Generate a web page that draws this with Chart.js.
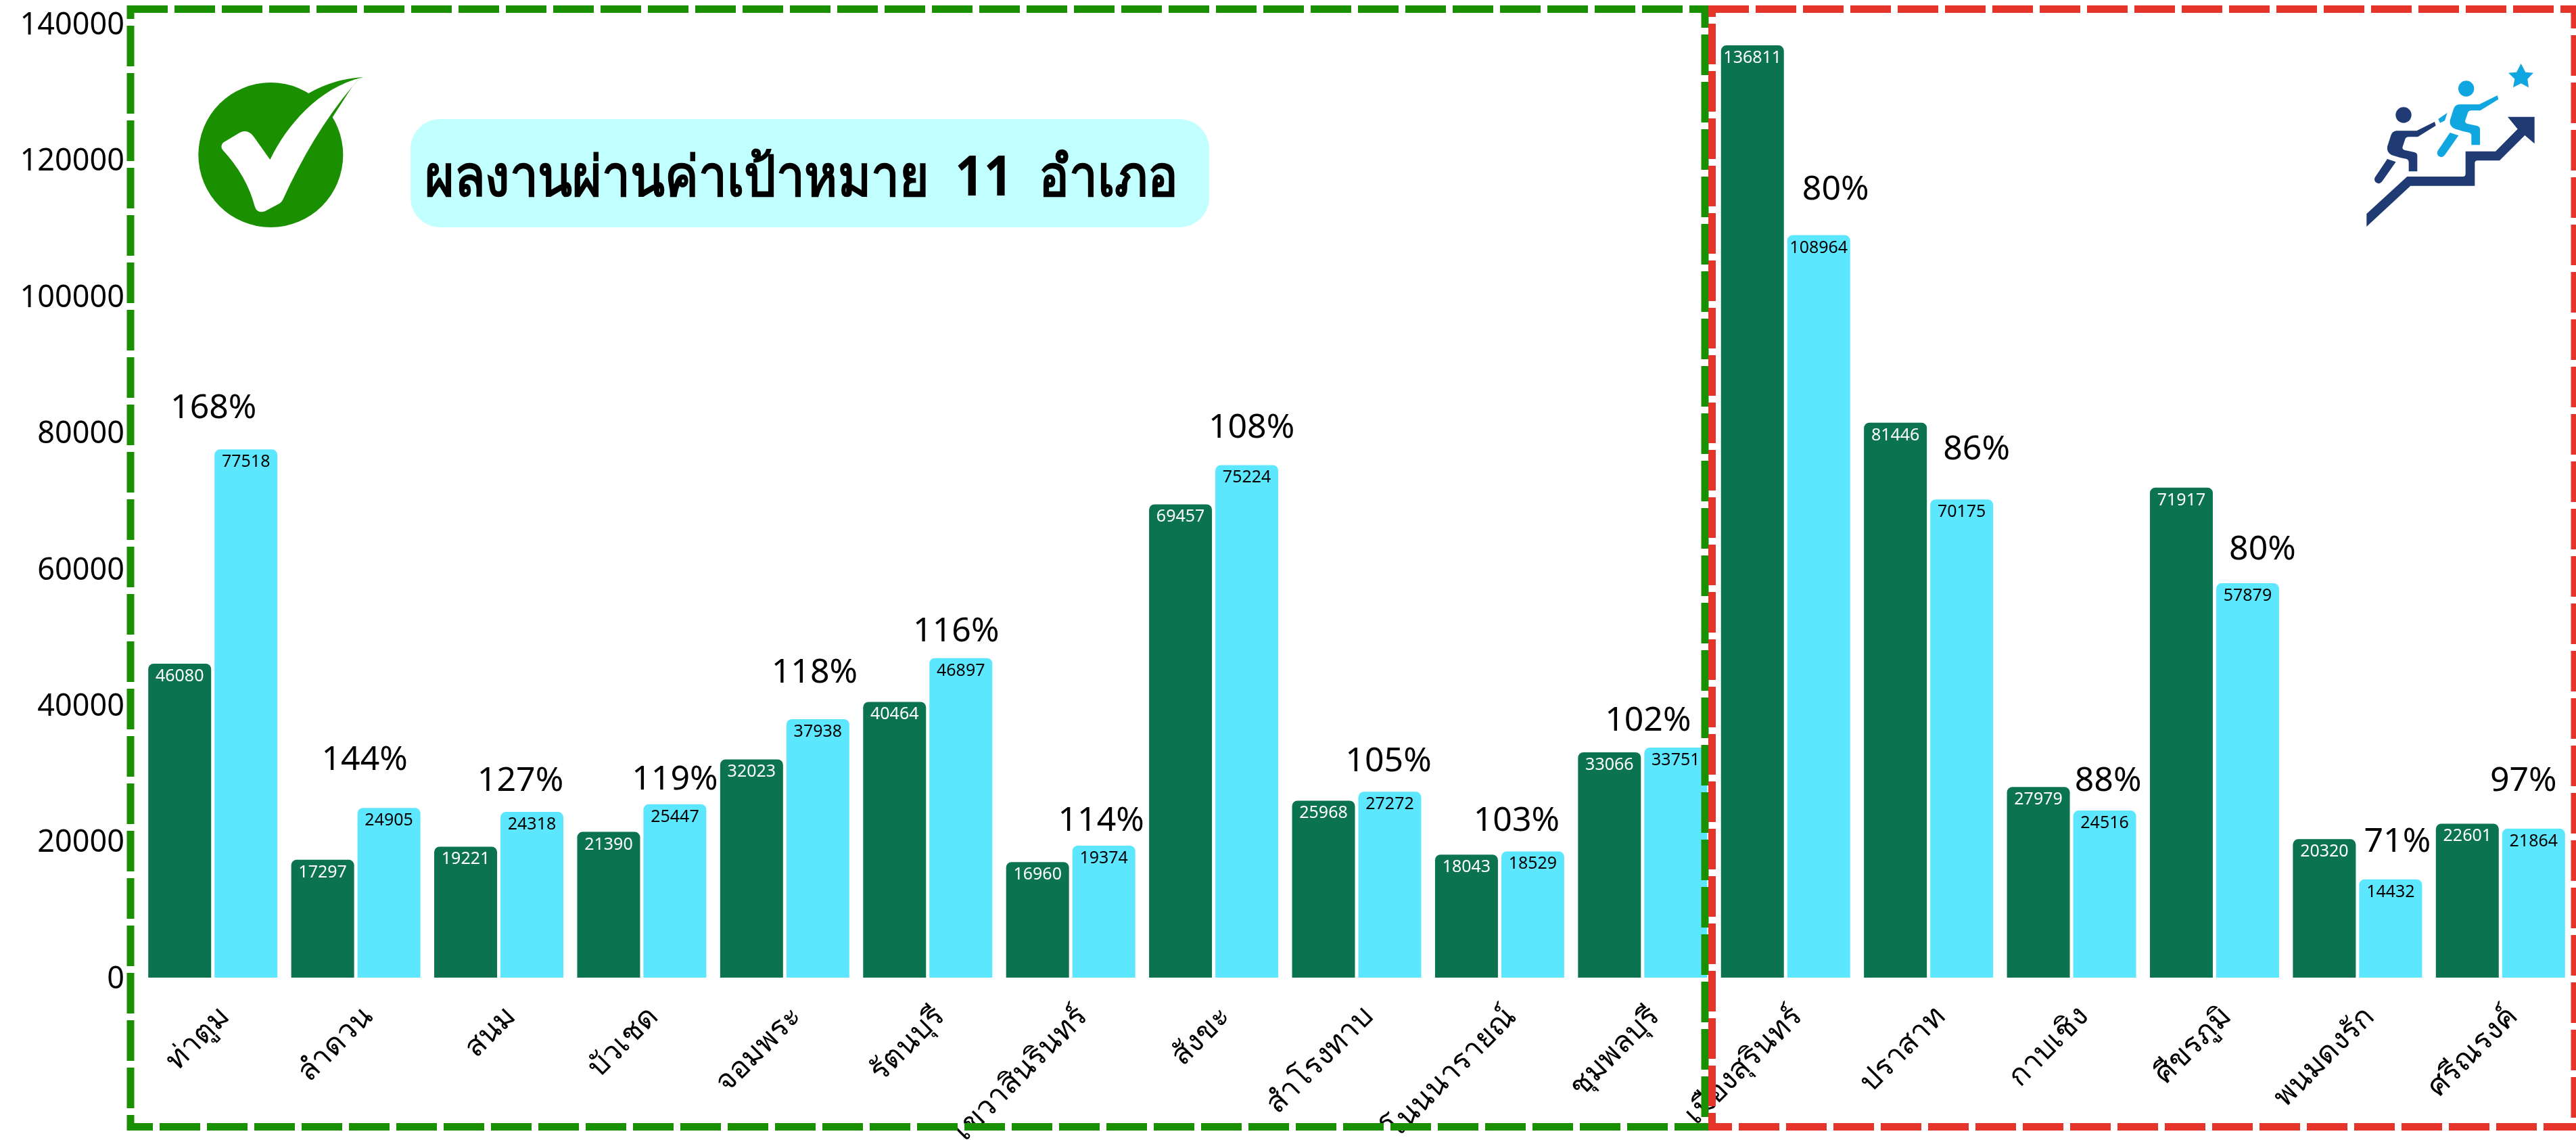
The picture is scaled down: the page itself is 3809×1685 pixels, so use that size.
<!DOCTYPE html>
<html><head><meta charset="utf-8">
<style>html,body{margin:0;padding:0;background:#fff;overflow:hidden}canvas{display:block}</style>
<script src="https://cdn.jsdelivr.net/npm/chart.js@4"></script>
</head><body><canvas id="c" width="3809" height="1685"></canvas>
<script>
const categories = ["ท่าตูม","ลำดวน","สนม","บัวเชด","จอมพระ","รัตนบุรี","เขวาสินรินทร์","สังขะ","สำโรงทาบ","โนนนารายณ์","ชุมพลบุรี","เมืองสุรินทร์","ปราสาท","กาบเชิง","ศีขรภูมิ","พนมดงรัก","ศรีณรงค์"];
const targetValues = [46080,17297,19221,21390,32023,40464,16960,69457,25968,18043,33066,136811,81446,27979,71917,20320,22601];
const resultValues = [77518,24905,24318,25447,37938,46897,19374,75224,27272,18529,33751,108964,70175,24516,57879,14432,21864];
const percentLabels = ["168%","144%","127%","119%","118%","116%","114%","108%","105%","103%","102%","80%","86%","88%","80%","71%","97%"];
const percentOffsetX = [1,13,32,49,44,42,45,56,47,25,8,74,71,54,71,59,34];
const percentPixelY = [600,1120,1151,1149,991,930,1210,629,1122,1210,1062,277,661,1151,809,1241,1151];
const titleText = "ผลงานผ่านค่าเป้าหมาย  11  อำเภอ";
const FONT = '"Noto Sans","Noto Sans CJK SC","DejaVu Sans",sans-serif';

function dashLine(ctx,color,x1,y1,x2,y2,start){
  ctx.save();ctx.strokeStyle=color;ctx.lineWidth=11;ctx.lineCap='butt';ctx.setLineDash([60,10]);
  const a=(x1===x2)?y1:x1;
  ctx.lineDashOffset=((a-start)%70+70)%70;
  ctx.beginPath();ctx.moveTo(x1,y1);ctx.lineTo(x2,y2);ctx.stroke();ctx.restore();
}
const overlay={id:'overlay',
 afterDraw(chart){
  const ctx=chart.ctx,xs=chart.scales.x;
  ctx.save();ctx.textAlign='center';ctx.textBaseline='alphabetic';ctx.font='25px '+FONT;
  chart.data.datasets.forEach((ds,d)=>{
    chart.getDatasetMeta(d).data.forEach((b,i)=>{
      ctx.fillStyle=d===0?'#ffffff':'#000000';
      ctx.fillText(String(ds.data[i]),b.x,b.y+26);
    });
  });
  ctx.font='50px '+FONT;ctx.fillStyle='#000';ctx.textBaseline='middle';
  percentLabels.forEach((t,i)=>ctx.fillText(t,xs.getPixelForValue(i)+percentOffsetX[i],percentPixelY[i]+4));
  ctx.restore();

  ctx.save();ctx.fillStyle='#C2FFFF';ctx.beginPath();ctx.roundRect(607,176,1181,160,44);ctx.fill();
  ctx.fillStyle='#000';ctx.font='bold 82px '+FONT;ctx.textAlign='left';ctx.textBaseline='alphabetic';
  ctx.translate(628,289);ctx.scale(0.91,1);ctx.fillText(titleText,0,0);ctx.restore();

  ctx.save();ctx.translate(280,100);ctx.scale(1/3,1/3);ctx.fillStyle='#1A9000';
  ctx.beginPath();ctx.arc(361,387,321,0,Math.PI*2);ctx.fill();
  ctx.fill(new Path2D('M530 113 Q640 50 770 42 Q745 55 722 85 L635 220 L500 300 Z'));
  ctx.fillStyle='#fff';
  ctx.fill(new Path2D('M358 408 C430 260 570 90 770 42 Q745 55 722 85 C600 230 500 400 415 585 Q410 597 400 602 L335 637 Q300 648 290 615 Q255 480 148 365 Q135 348 150 332 L225 287 Q260 272 285 305 Z'));
  ctx.restore();

  ctx.save();ctx.translate(3400,0);ctx.scale(1/3,1/3);
  const body=new Path2D('M600 540 L520 580 L430 580 Q412 582 406 600 L390 650 Q386 675 410 688 Q445 700 475 705 Q485 708 485 720 L485 760 L523 760 L523 690 Q523 678 510 675 L465 665 Q455 660 458 650 L470 615 Q474 607 485 607 L525 607 L605 557 Z M390 705 L428 718 L370 800 Q355 822 338 808 Q328 795 338 782 Z');
  ctx.fillStyle='#203B73';
  ctx.fill(new Path2D('M298 948 L478 783 L725 783 Q737 783 737 770 L737 671 L870 671 L968 572 L924 518 L1043 518 L1043 637 L1000 600 L888 712 L790 712 Q778 712 778 724 L778 824 L493 824 L298 1005 Z'));
  ctx.fill(body);ctx.beginPath();ctx.arc(462,510,35,0,Math.PI*2);ctx.fill();
  ctx.fillStyle='#10A7E0';
  ctx.save();ctx.translate(278,-117);ctx.fill(body);ctx.beginPath();ctx.arc(462,510,35,0,Math.PI*2);ctx.fill();ctx.restore();
  ctx.fill(new Path2D('M656 500 L616 528 L624 545 L645 535 Z'));
  ctx.fill(new Path2D('M983 282 L1003 320 L1038 323 L1012 350 L1017 388 L983 370 L948 388 L955 350 L927 323 L963 320 Z'));
  ctx.restore();

  const G='#1A9000',R='#E5352B';
  dashLine(ctx,G,188,13.5,2526,13.5,188);
  dashLine(ctx,G,193,8,193,1671,38);
  dashLine(ctx,G,188,1665.5,2526,1665.5,236);
  dashLine(ctx,G,2521,8,2521,1671,51);
  dashLine(ctx,R,2526,13.5,3809,13.5,2526);
  dashLine(ctx,R,2531.5,8,2531.5,1671,35);
  dashLine(ctx,R,2526,1665.5,3809,1665.5,2571);
  dashLine(ctx,R,3807,8,3807,1671,52);
  ctx.fillStyle=G;ctx.fillRect(188,1660,38,11);
  ctx.fillStyle=R;ctx.fillRect(2526,1660,35,11);
 }};
new Chart(document.getElementById('c'),{
 type:'bar',
 data:{labels:categories,datasets:[
  {label:'เป้าหมาย',data:targetValues,backgroundColor:'#0B7350'},
  {label:'ผลงาน',data:resultValues,backgroundColor:'#5CE7FF'}]},
 options:{responsive:false,animation:false,
  layout:{padding:{top:0,right:6,left:0,bottom:0}},
  datasets:{bar:{categoryPercentage:0.927,barPercentage:0.949,borderRadius:{topLeft:8,topRight:8,bottomLeft:0,bottomRight:0},borderSkipped:false}},
  plugins:{legend:{display:false},title:{display:false},tooltip:{enabled:false}},
  scales:{
   y:{min:0,max:140000,ticks:{stepSize:20000,color:'#000',font:{family:FONT,size:45},padding:25,labelOffset:3,callback:v=>String(v)},
      grid:{display:false,drawTicks:false},border:{display:false},afterFit(s){s.width=209;s.paddingTop=35;s.paddingBottom=0;}},
   x:{ticks:{color:'#000',font:{family:FONT,size:44},minRotation:45,maxRotation:45,autoSkip:false,padding:32,labelOffset:18},
      grid:{display:false,drawTicks:false},border:{display:false},afterFit(s){s.height=240;}}
  }},
 plugins:[overlay]});
</script></body></html>
